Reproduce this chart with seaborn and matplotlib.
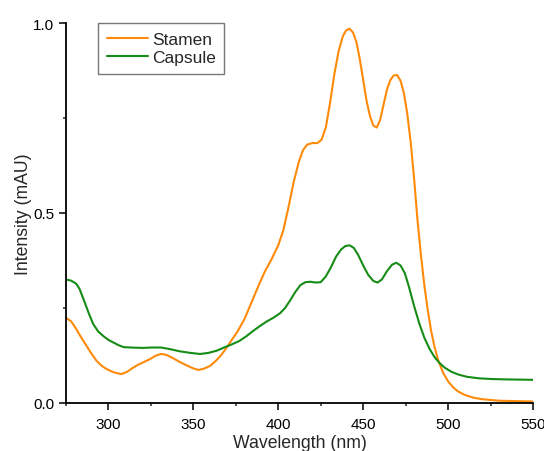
import pandas as pd
import matplotlib
matplotlib.use('Agg')
import matplotlib.pyplot as plt
from matplotlib.ticker import MultipleLocator
import seaborn as sns

# values
stamen_nm = [275, 278, 281, 284, 287, 290, 293, 296, 299, 303, 307.5, 311, 314.5, 318,
             321.5, 325, 328, 331, 334, 338, 342, 346, 350, 353, 356, 360, 363, 366, 369,
             372, 376, 380, 384, 388, 392, 396, 400, 403, 406, 409, 412, 414.5, 417, 420,
             423, 425.5, 428, 430.5, 433, 435.5, 438, 440, 442, 444, 446, 448, 450, 452,
             454, 456, 458, 460, 462, 464, 466, 468, 470, 472, 474, 476, 478, 480, 482,
             484, 486, 488, 490, 492, 494, 497, 500, 503, 506, 510, 515, 520, 530, 540, 550]
stamen_int = [0.224, 0.215, 0.195, 0.172, 0.151, 0.130, 0.111, 0.098, 0.089, 0.081, 0.076,
              0.082, 0.093, 0.102, 0.109, 0.117, 0.125, 0.129, 0.127, 0.118, 0.108, 0.099,
              0.091, 0.087, 0.090, 0.098, 0.110, 0.124, 0.142, 0.162, 0.188, 0.220, 0.262,
              0.305, 0.345, 0.378, 0.415, 0.455, 0.515, 0.580, 0.633, 0.665, 0.680, 0.684,
              0.684, 0.693, 0.725, 0.790, 0.865, 0.925, 0.965, 0.981, 0.985, 0.975, 0.950,
              0.905, 0.850, 0.795, 0.755, 0.730, 0.725, 0.745, 0.785, 0.825, 0.850, 0.862,
              0.863, 0.848, 0.815, 0.760, 0.685, 0.590, 0.480, 0.390, 0.310, 0.245, 0.190,
              0.148, 0.115, 0.080, 0.057, 0.041, 0.030, 0.021, 0.014, 0.010, 0.006, 0.005,
              0.004]

capsule_nm = [275, 278, 281, 283, 286, 288.5, 291, 294, 297, 300, 303, 306, 309, 313, 320,
              326, 331, 336, 342, 348, 354, 359, 364, 368, 372, 377, 381, 385, 389, 393,
              397, 401, 404, 407, 410, 413, 416, 419, 422, 425, 428, 431, 434, 437, 439.5,
              442, 444.5, 447, 450, 453, 456, 458.5, 461, 464, 467, 469.5, 472, 474.5, 477,
              480, 483, 486, 489, 492, 495, 498, 502, 506, 511, 518, 526, 535, 550]
capsule_int = [0.325, 0.322, 0.314, 0.300, 0.265, 0.235, 0.208, 0.188, 0.176, 0.166, 0.159,
               0.152, 0.147, 0.146, 0.145, 0.146, 0.146, 0.142, 0.136, 0.132, 0.129, 0.132,
               0.138, 0.146, 0.153, 0.163, 0.175, 0.189, 0.202, 0.214, 0.224, 0.236, 0.250,
               0.270, 0.292, 0.310, 0.318, 0.319, 0.317, 0.318, 0.333, 0.357, 0.385, 0.404,
               0.413, 0.415, 0.408, 0.390, 0.362, 0.337, 0.321, 0.317, 0.325, 0.347, 0.364,
               0.369, 0.362, 0.342, 0.305, 0.255, 0.210, 0.172, 0.143, 0.121, 0.105, 0.093,
               0.082, 0.075, 0.069, 0.065, 0.063, 0.062, 0.061]

x_ticks = [300, 350, 400, 450, 500, 550]
y_ticks = [0.0, 0.5, 1.0]

data = pd.concat([
    pd.DataFrame({'nm': stamen_nm, 'intensity': stamen_int, 'sample': 'Stamen'}),
    pd.DataFrame({'nm': capsule_nm, 'intensity': capsule_int, 'sample': 'Capsule'}),
])

sns.set_style('ticks')
plt.rcParams['font.family'] = ['Liberation Sans', 'DejaVu Sans']

fig = plt.figure(figsize=(5.44, 4.52), dpi=100)
ax = fig.add_axes([66 / 544, 1 - 404 / 452, (533 - 66) / 544, (404 - 24) / 452])

sns.lineplot(data=data, x='nm', y='intensity', hue='sample', sort=False,
             palette={'Stamen': '#FF8A0A', 'Capsule': '#168C16'}, linewidth=1.5, ax=ax)

ax.set_xlim(275, 550)
ax.set_ylim(0, 1.0)
ax.set_xticks(x_ticks)
ax.set_yticks(y_ticks)
ax.xaxis.set_minor_locator(MultipleLocator(25))
ax.yaxis.set_minor_locator(MultipleLocator(0.25))
ax.tick_params(which='major', direction='out', length=5, width=1.1, labelsize=11, colors='black')
ax.tick_params(which='minor', direction='out', length=2.5, width=1.1)
ax.tick_params(axis='x', pad=5)
sns.despine(ax=ax)
for s in ['left', 'bottom']:
    ax.spines[s].set_linewidth(1.3)
    ax.spines[s].set_color('black')

ax.set_xlabel('Wavelength (nm)', fontsize=12.7, labelpad=2.5)
ax.set_ylabel('Intensity (mAU)', fontsize=12.7, labelpad=1)

leg = ax.legend(loc='upper left', bbox_to_anchor=(32 / 467, 1.0), fontsize=12.5,
                handlelength=2.4, handletextpad=0.2, borderpad=0.5, labelspacing=0.2,
                fancybox=False, framealpha=1, edgecolor='#777777', title=None,
                borderaxespad=0)
leg.get_frame().set_linewidth(1.0)

fig.savefig('out.png', dpi=100)
